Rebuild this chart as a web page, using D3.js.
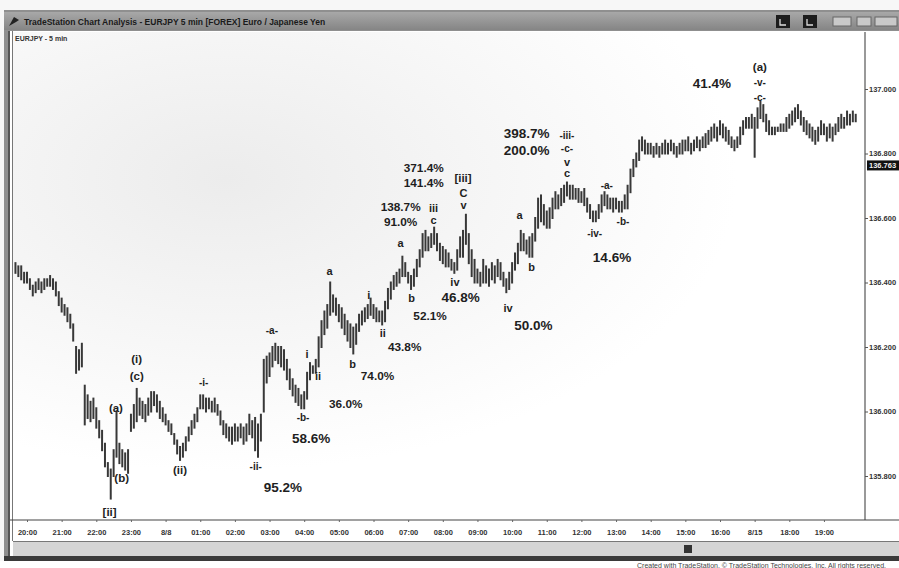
<!DOCTYPE html>
<html><head><meta charset="utf-8">
<script src="https://cdn.jsdelivr.net/npm/d3@7"></script>
<style>body{margin:0;background:#fff}svg{display:block}</style>
</head><body>
<svg id="c" width="899" height="568"></svg>
<script>
// ---------- DATA ----------
const barStart = "2007-08-07T19:40:00"; // first 5-min bar
const barMinutes = 5;
// 5-minute bar highs (one row per hour)
const barHigh = [
 136.46,136.45,136.45,136.43,
 136.43,136.41,136.39,136.40,136.41,136.40,136.41,136.41,136.42,136.41,136.40,136.37,
 136.35,136.33,136.32,136.30,136.27,136.20,136.19,136.21,136.08,136.05,136.03,136.04,
 136.01,135.97,135.94,135.90,135.84,135.82,135.88,136.00,135.90,135.88,135.87,135.88,
 135.99,136.02,136.07,136.04,136.03,136.02,136.04,136.06,136.06,136.05,136.03,136.01,
 135.99,135.97,135.96,135.93,135.91,135.89,135.90,135.92,135.95,135.97,135.99,136.01,
 136.05,136.05,136.04,136.04,136.03,136.04,136.02,136.00,135.97,135.96,135.95,135.95,
 135.96,135.95,135.96,135.95,135.96,135.99,135.97,135.98,135.96,135.99,136.16,136.17,
 136.18,136.20,136.21,136.20,136.20,136.19,136.16,136.13,136.10,136.08,136.07,136.05,
 136.06,136.12,136.15,136.14,136.16,136.23,136.28,136.31,136.33,136.40,136.36,136.35,
 136.33,136.32,136.30,136.28,136.27,136.26,136.27,136.30,136.31,136.32,136.33,136.35,
 136.33,136.32,136.31,136.31,136.34,136.38,136.40,136.42,136.43,136.44,136.48,136.46,
 136.43,136.42,136.44,136.47,136.50,136.55,136.56,136.54,136.55,136.57,136.55,136.52,
 136.51,136.50,136.49,136.47,136.46,136.50,136.54,136.56,136.61,136.55,136.50,136.47,
 136.44,136.43,136.47,136.45,136.44,136.46,136.45,136.47,136.46,136.43,136.41,136.43,
 136.46,136.49,136.52,136.56,136.55,136.53,136.54,136.55,136.60,136.66,136.67,136.64,
 136.62,136.63,136.66,136.68,136.67,136.69,136.70,136.71,136.70,136.70,136.69,136.69,
 136.68,136.69,136.66,136.64,136.62,136.62,136.64,136.67,136.68,136.67,136.66,136.66,
 136.66,136.65,136.65,136.67,136.70,136.75,136.78,136.80,136.84,136.85,136.84,136.83,
 136.83,136.82,136.83,136.82,136.83,136.84,136.83,136.84,136.83,136.82,136.83,136.84,
 136.84,136.85,136.83,136.84,136.85,136.84,136.85,136.86,136.87,136.88,136.89,136.88,
 136.90,136.89,136.88,136.87,136.85,136.84,136.85,136.88,136.90,136.91,136.91,136.92,
 136.91,136.94,136.96,136.95,136.92,136.90,136.88,136.88,136.88,136.89,136.89,136.91,
 136.92,136.93,136.94,136.95,136.93,136.91,136.90,136.89,136.88,136.87,136.88,136.90,
 136.89,136.88,136.89,136.88,136.89,136.91,136.92,136.91,136.93,136.92,136.93,136.92
];
// 5-minute bar lows
const barLow = [
 136.43,136.42,136.41,136.40,
 136.40,136.38,136.36,136.37,136.38,136.37,136.38,136.39,136.39,136.38,136.36,136.33,
 136.31,136.30,136.28,136.26,136.22,136.12,136.13,136.14,135.96,135.98,135.97,135.98,
 135.95,135.92,135.88,135.83,135.80,135.73,135.80,135.86,135.84,135.83,135.82,135.81,
 135.94,135.95,135.97,135.99,135.98,135.97,135.99,136.00,136.02,136.00,135.98,135.97,
 135.96,135.94,135.93,135.90,135.87,135.85,135.86,135.88,135.91,135.93,135.95,135.97,
 136.01,136.01,136.00,136.01,136.00,136.00,135.99,135.96,135.93,135.92,135.91,135.90,
 135.91,135.91,135.92,135.90,135.91,135.93,135.92,135.88,135.86,135.91,136.00,136.09,
 136.11,136.14,136.16,136.15,136.14,136.13,136.10,136.07,136.05,136.03,136.02,136.01,
 136.01,136.04,136.10,136.12,136.12,136.14,136.20,136.24,136.26,136.30,136.31,136.30,
 136.28,136.26,136.24,136.22,136.20,136.18,136.21,136.25,136.27,136.28,136.29,136.30,
 136.29,136.28,136.28,136.27,136.28,136.32,136.35,136.38,136.39,136.40,136.42,136.42,
 136.40,136.38,136.39,136.42,136.45,136.48,136.50,136.50,136.51,136.52,136.50,136.47,
 136.46,136.45,136.45,136.44,136.43,136.44,136.48,136.48,136.52,136.46,136.42,136.40,
 136.40,136.39,136.40,136.40,136.39,136.41,136.40,136.42,136.41,136.39,136.37,136.38,
 136.40,136.44,136.46,136.50,136.50,136.49,136.48,136.48,136.53,136.57,136.59,136.58,
 136.57,136.57,136.60,136.63,136.63,136.64,136.65,136.67,136.66,136.66,136.66,136.65,
 136.65,136.64,136.62,136.60,136.59,136.59,136.60,136.62,136.64,136.63,136.63,136.62,
 136.63,136.62,136.62,136.63,136.63,136.68,136.73,136.76,136.78,136.81,136.80,136.80,
 136.80,136.79,136.80,136.79,136.80,136.80,136.80,136.81,136.80,136.79,136.80,136.80,
 136.81,136.81,136.80,136.81,136.82,136.81,136.82,136.82,136.83,136.84,136.85,136.84,
 136.86,136.85,136.84,136.83,136.82,136.81,136.82,136.83,136.86,136.88,136.88,136.88,
 136.79,136.88,136.91,136.90,136.87,136.86,136.86,136.86,136.87,136.87,136.87,136.87,
 136.88,136.89,136.90,136.91,136.89,136.87,136.86,136.85,136.84,136.83,136.84,136.86,
 136.86,136.84,136.85,136.84,136.86,136.87,136.88,136.88,136.89,136.89,136.90,136.90
];
const priceTicks = [135.8, 136.0, 136.2, 136.4, 136.6, 136.8, 137.0];
const lastPrice = 136.763;
const timeTicks = ["2007-08-07T20:00","2007-08-07T21:00","2007-08-07T22:00","2007-08-07T23:00",
 "2007-08-08T00:00","2007-08-08T01:00","2007-08-08T02:00","2007-08-08T03:00","2007-08-08T04:00",
 "2007-08-08T05:00","2007-08-08T06:00","2007-08-08T07:00","2007-08-08T08:00","2007-08-08T09:00",
 "2007-08-08T10:00","2007-08-08T11:00","2007-08-08T12:00","2007-08-08T13:00","2007-08-08T14:00",
 "2007-08-08T15:00","2007-08-08T16:00","2007-08-08T17:00","2007-08-08T18:00","2007-08-08T19:00"];
const timeTickLabels = ["20:00","21:00","22:00","23:00","8/8","01:00","02:00","03:00","04:00",
 "05:00","06:00","07:00","08:00","09:00","10:00","11:00","12:00","13:00","14:00","15:00",
 "16:00","8/15","18:00","19:00"];
// wave labels: [text, bar index, price]
const waveLabels = [
 ["[ii]",32.7,135.688],["(a)",34.8,136.011],["(b)",36.9,135.794],["(i)",42.1,136.163],["(c)",42.1,136.110],
 ["(ii)",57,135.819],["-i-",65.3,136.091],["-ii-",83.3,135.828],["-a-",88.8,136.250],["-b-",99.6,135.980],
 ["i",101,136.178],["ii",104.8,136.110],["a",108.9,136.436],["b",116.9,136.147],["i",122.4,136.361],
 ["ii",127.3,136.243],["a",133.5,136.522],["b",137.3,136.352],["iii",144.9,136.631],["c",144.9,136.594],
 ["[iii]",155,136.724],["C",155.3,136.678],["v",155.3,136.640],["iv",152.2,136.402],["iv",170.6,136.321],
 ["a",174.7,136.609],["b",178.9,136.448],["-iii-",191,136.857],["-c-",191,136.817],["v",191,136.774],
 ["c",191,136.740],["-a-",204.9,136.702],["-iv-",200.7,136.553],["-b-",210.4,136.588],
 ["(a)",257.8,137.068],["-v-",257.8,137.019],["-c-",257.8,136.975]
];
// ratio labels: [text, bar index, price, emphasis (1 = primary, 0 = secondary)]
const ratioLabels = [
 ["95.2%",92.7,135.766,1],["58.6%",102.4,135.918,1],["36.0%",114.5,136.023,0],["74.0%",125.5,136.110,0],
 ["43.8%",134.9,136.200,0],["52.1%",143.6,136.296,0],["138.7%",133.5,136.634,0],["91.0%",133.5,136.588,0],
 ["371.4%",141.5,136.755,0],["141.4%",141.5,136.709,0],["46.8%",154.2,136.355,1],["50.0%",179.5,136.268,1],
 ["398.7%",177,136.864,1],["200.0%",177,136.811,1],["14.6%",206.6,136.479,1],["41.4%",241.3,137.019,1]
];

// ---------- DRAW ----------
const W = 899, H = 568;
const svg = d3.select("#c");
const parse = d3.timeParse("%Y-%m-%dT%H:%M");
const t0 = d3.timeParse("%Y-%m-%dT%H:%M:%S")(barStart);
const barTime = i => d3.timeMinute.offset(t0, i * barMinutes);
const bars = barHigh.map((h, i) => ({t: barTime(i), h, l: barLow[i]}));

const plot = {left: 13, right: 865, top: 32, bottom: 520};
const x = d3.scaleTime()
  .domain([t0, barTime(1460 / barMinutes)])
  .range([15.45, 15.45 + 1460 * 0.5775]);
const y = d3.scaleLinear().domain([135.6, 137.2]).range([540.5, 24.5]);
const xi = v => x(d3.timeMinute.offset(t0, v * barMinutes));
const FONT = "Arial, 'Liberation Sans', sans-serif";

// page background
svg.append("rect").attr("width", W).attr("height", H).attr("fill", "#f7f7f7");
// window frame
svg.append("rect").attr("x", 4).attr("y", 10).attr("width", W - 4).attr("height", 550).attr("fill", "#8f8f8f");
// title bar
const tg = svg.append("linearGradient").attr("id", "tb").attr("x1", 0).attr("x2", 0).attr("y1", 0).attr("y2", 1);
tg.append("stop").attr("offset", 0).attr("stop-color", "#a8a8a8");
tg.append("stop").attr("offset", 1).attr("stop-color", "#858585");
svg.append("rect").attr("x", 4).attr("y", 12).attr("width", W - 4).attr("height", 18).attr("fill", "url(#tb)");
svg.append("text").attr("x", 24).attr("y", 24.5).attr("font-family", FONT)
  .attr("font-size", 8.5).attr("font-weight", "bold").attr("fill", "#1a1a1a")
  .text("TradeStation Chart Analysis - EURJPY 5 min [FOREX] Euro / Japanese Yen");
svg.append("path").attr("d", "M9,26 L14,17 L19,20 L16,22 Z").attr("fill", "#222");
// title buttons
[776, 803].forEach(bx => {
  svg.append("rect").attr("x", bx).attr("y", 15).attr("width", 14).attr("height", 13).attr("fill", "#1d1d1d");
  svg.append("path").attr("d", `M${bx+4},19 v6 h6`).attr("stroke", "#ddd").attr("fill", "none").attr("stroke-width", 1.3);
});
[[833, 18], [857, 14], [875, 22]].forEach(([bx, bw]) => {
  svg.append("rect").attr("x", bx).attr("y", 17).attr("width", bw).attr("height", 9).attr("fill", "#c9c9c9").attr("stroke", "#666");
});

// chart window body
svg.append("rect").attr("x", 10).attr("y", 31).attr("width", W - 10).attr("height", 526).attr("fill", "#fff");
const bg = svg.append("radialGradient").attr("id", "bg").attr("cx", 0.25).attr("cy", 0.3).attr("r", 0.6);
bg.append("stop").attr("offset", 0).attr("stop-color", "#ececec");
bg.append("stop").attr("offset", 1).attr("stop-color", "#ffffff");
svg.append("rect").attr("x", plot.left).attr("y", plot.top).attr("width", plot.right - plot.left)
  .attr("height", plot.bottom - plot.top).attr("fill", "url(#bg)");
// left double border
svg.append("line").attr("x1", 9).attr("x2", 9).attr("y1", 31).attr("y2", 557).attr("stroke", "#555").attr("stroke-width", 2);
svg.append("line").attr("x1", 12.5).attr("x2", 12.5).attr("y1", 31).attr("y2", 541).attr("stroke", "#777").attr("stroke-width", 1);
// symbol caption
svg.append("text").attr("x", 15).attr("y", 41).attr("font-family", FONT)
  .attr("font-size", 7).attr("font-weight", "bold").attr("fill", "#333").text("EURJPY - 5 min");

// price axis
svg.append("line").attr("x1", plot.right).attr("x2", plot.right).attr("y1", plot.top).attr("y2", plot.bottom)
  .attr("stroke", "#555").attr("stroke-width", 1.2);
const ya = svg.append("g").attr("transform", `translate(${plot.right},0)`)
  .call(d3.axisRight(y).tickValues(priceTicks).tickFormat(d3.format(".3f")).tickSize(3).tickPadding(1));
ya.select(".domain").remove();
ya.selectAll("text").attr("font-family", FONT).attr("font-size", 7.5)
  .attr("font-weight", "bold").attr("fill", "#333");
ya.selectAll("line").attr("stroke", "#555");
// last price box
const lp = svg.append("g").attr("transform", `translate(${plot.right + 2},${y(lastPrice)})`);
lp.append("rect").attr("x", 0).attr("y", -5).attr("width", 34).attr("height", 10).attr("fill", "#111");
lp.append("text").attr("x", 2).attr("y", 3).attr("font-family", FONT).attr("font-size", 7.5)
  .attr("font-weight", "bold").attr("fill", "#eee").text(d3.format(".3f")(lastPrice));

// time axis
svg.append("line").attr("x1", 10).attr("x2", W).attr("y1", plot.bottom).attr("y2", plot.bottom)
  .attr("stroke", "#444").attr("stroke-width", 1.2);
const ticksT = timeTicks.map(parse);
const xa = svg.append("g").attr("transform", `translate(0,${plot.bottom})`)
  .call(d3.axisBottom(x).tickValues(ticksT).tickFormat((d, i) => timeTickLabels[i]).tickSize(2).tickPadding(8));
xa.select(".domain").remove();
xa.selectAll("text").attr("font-family", FONT).attr("font-size", 7.5)
  .attr("font-weight", "bold").attr("fill", "#333");
xa.selectAll("line").attr("stroke", "#666");
// scrollbar + bottom frame
svg.append("rect").attr("x", 13).attr("y", 542).attr("width", W - 13).attr("height", 14).attr("fill", "#d4d4d4");
svg.append("line").attr("x1", 13).attr("x2", W).attr("y1", 541.5).attr("y2", 541.5).attr("stroke", "#777");
svg.append("rect").attr("x", 684).attr("y", 545).attr("width", 8).attr("height", 8).attr("fill", "#333");
svg.append("rect").attr("x", 4).attr("y", 556).attr("width", W - 4).attr("height", 5).attr("fill", "#3a3a3a");
svg.append("rect").attr("x", 0).attr("y", 561).attr("width", W).attr("height", 7).attr("fill", "#fff");
svg.append("text").attr("x", 637).attr("y", 568).attr("font-family", FONT)
  .attr("font-size", 7).attr("fill", "#444")
  .text("Created with TradeStation. \u00A9 TradeStation Technologies, Inc. All rights reserved.");

// price bars
svg.append("clipPath").attr("id", "pc").append("rect").attr("x", plot.left).attr("y", plot.top)
  .attr("width", plot.right - plot.left).attr("height", plot.bottom - plot.top);
const bg2 = svg.append("g").attr("clip-path", "url(#pc)");
bg2.selectAll("line.hl").data(bars).join("line").attr("class", "hl")
  .attr("x1", d => x(d.t)).attr("x2", d => x(d.t))
  .attr("y1", d => y(d.h) - 1).attr("y2", d => y(d.l) + 1)
  .attr("stroke", "#383838").attr("stroke-width", 2);

// annotations
const ann = svg.append("g").attr("font-family", FONT)
  .attr("font-weight", "bold").attr("fill", "#1e1e1e").attr("text-anchor", "middle");
ann.selectAll("text.w").data(waveLabels).join("text").attr("class", "w")
  .attr("x", d => xi(d[1])).attr("y", d => y(d[2])).attr("dy", "0.35em")
  .attr("font-size", d => d[0].startsWith("(") || d[0].startsWith("[") ? 11.5 : (d[0].startsWith("-") ? 10 : 11))
  .text(d => d[0]);
ann.selectAll("text.r").data(ratioLabels).join("text").attr("class", "r")
  .attr("x", d => xi(d[1])).attr("y", d => y(d[2])).attr("dy", "0.35em")
  .attr("font-size", d => d[3] ? 13.5 : 11.8)
  .text(d => d[0]);
</script>
</body></html>
